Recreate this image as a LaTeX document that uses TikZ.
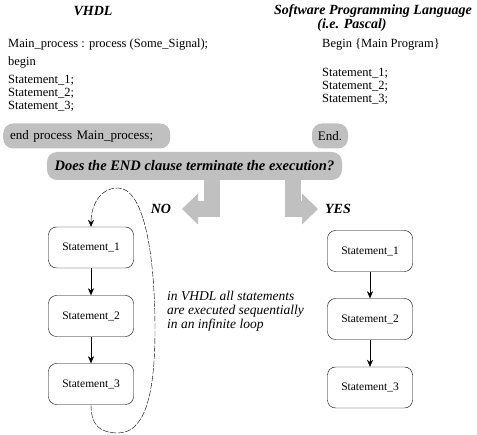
\documentclass[tikz,border=0pt]{standalone}
\usepackage{fontspec}
\setmainfont{Liberation Serif}
\usetikzlibrary{calc,arrows.meta}
\definecolor{shade}{RGB}{192,192,192}

\begin{document}
\begin{tikzpicture}[x=1pt,y=-1pt,
	every node/.style={inner sep=0pt},
	heading/.style={font=\fontsize{14}{16}\selectfont\bfseries\itshape},
	codeline/.style={anchor=west,align=left,font=\fontsize{12.5}{13}\selectfont},
	greybox/.style={fill=shade,rounded corners=10pt,minimum height=25pt,font=\fontsize{13}{15}\selectfont},
	stmtbox/.style={draw,rounded corners=8pt,minimum width=85pt,minimum height=41pt,font=\fontsize{11.5}{13}\selectfont},
	flow/.style={-{Stealth[length=7pt,width=6pt]}},
	cycleline/.style={dash pattern=on 6pt off 1.5pt},
	bigarrow/.style={draw=shade,line width=16pt,-{Triangle[length=16pt,width=30pt]}}]
		\useasboundingbox (0,0) rectangle (477,435);
		\coordinate (left) at (91,0);
		\coordinate (right) at (370,0);

		\node[heading] (vhdl) at (93,11) {VHDL};
		\node[heading] (spl) at (373,11) {Software Programming Language};
		\node[heading] (pascal) at (352,25) {(i.e. Pascal)};

		\node[codeline] (proc) at (8,45) {Main\_process : process (Some\_Signal);};
		\node[codeline] (vbegin) at (8,63) {begin};
		\node[codeline] (vstmts) at (8,93) {Statement\_1;\\Statement\_2;\\Statement\_3;};

		\node[codeline] (pbegin) at (322,45) {Begin \{Main Program\}};
		\node[codeline] (pstmts) at (322,86) {Statement\_1;\\Statement\_2;\\Statement\_3;};

		\node[greybox,anchor=west,minimum width=167pt,text width=153pt,align=left] (vend) at (3,136) {end process Main\_process;};
		\node[greybox,minimum width=36pt] (pend) at (330,136) {End.};
		\node[greybox,minimum width=295pt,minimum height=28pt,font=\fontsize{14.5}{16}\selectfont\bfseries\itshape] (question) at (194.5,166) {Does the END clause terminate the execution?};

		\coordinate (notip) at (182,209);
		\coordinate (yestip) at (318,209);
		\draw[bigarrow] ([xshift=17.5pt,yshift=2pt]question.south) |- (notip);
		\draw[bigarrow] ([xshift=98.5pt,yshift=2pt]question.south) |- (yestip);
		\node[heading] (no) at (161,209) {NO};
		\node[heading] (yes) at (338,209) {YES};

		\node[stmtbox] (l1) at ($(left) + (0,247.5)$) {Statement\_1};
		\node[stmtbox] (l2) at ($(left) + (0,316)$) {Statement\_2};
		\node[stmtbox] (l3) at ($(left) + (0,384)$) {Statement\_3};

		\node[stmtbox] (r1) at ($(right) + (0,251)$) {Statement\_1};
		\node[stmtbox] (r2) at ($(right) + (0,319)$) {Statement\_2};
		\node[stmtbox] (r3) at ($(right) + (0,387.5)$) {Statement\_3};

		\draw[flow] (l1) -- (l2);
		\draw[flow] (l2) -- (l3);
		\draw[flow] (r1) -- (r2);
		\draw[flow] (r2) -- (r3);

		\draw[cycleline,flow] (l3.south) .. controls ($(l3.south)+(0,22)$) and ($(l3.south)+(10,28)$) .. ($(left)+(27,433)$)
			.. controls ($(left)+(52,433)$) and ($(left)+(64,400)$) .. ($(left)+(64,330)$)
			.. controls ($(left)+(64,250)$) and ($(left)+(52,188)$) .. ($(left)+(27,188)$)
			.. controls ($(left)+(8,188)$) and ($(l1.north)+(0,-20)$) .. (l1.north);

		\node[anchor=west,align=left,font=\fontsize{13.5}{14}\selectfont\itshape] (remark) at (167,311) {in VHDL all statements\\are executed sequentially\\in an infinite loop};
	\end{tikzpicture}
\end{document}
